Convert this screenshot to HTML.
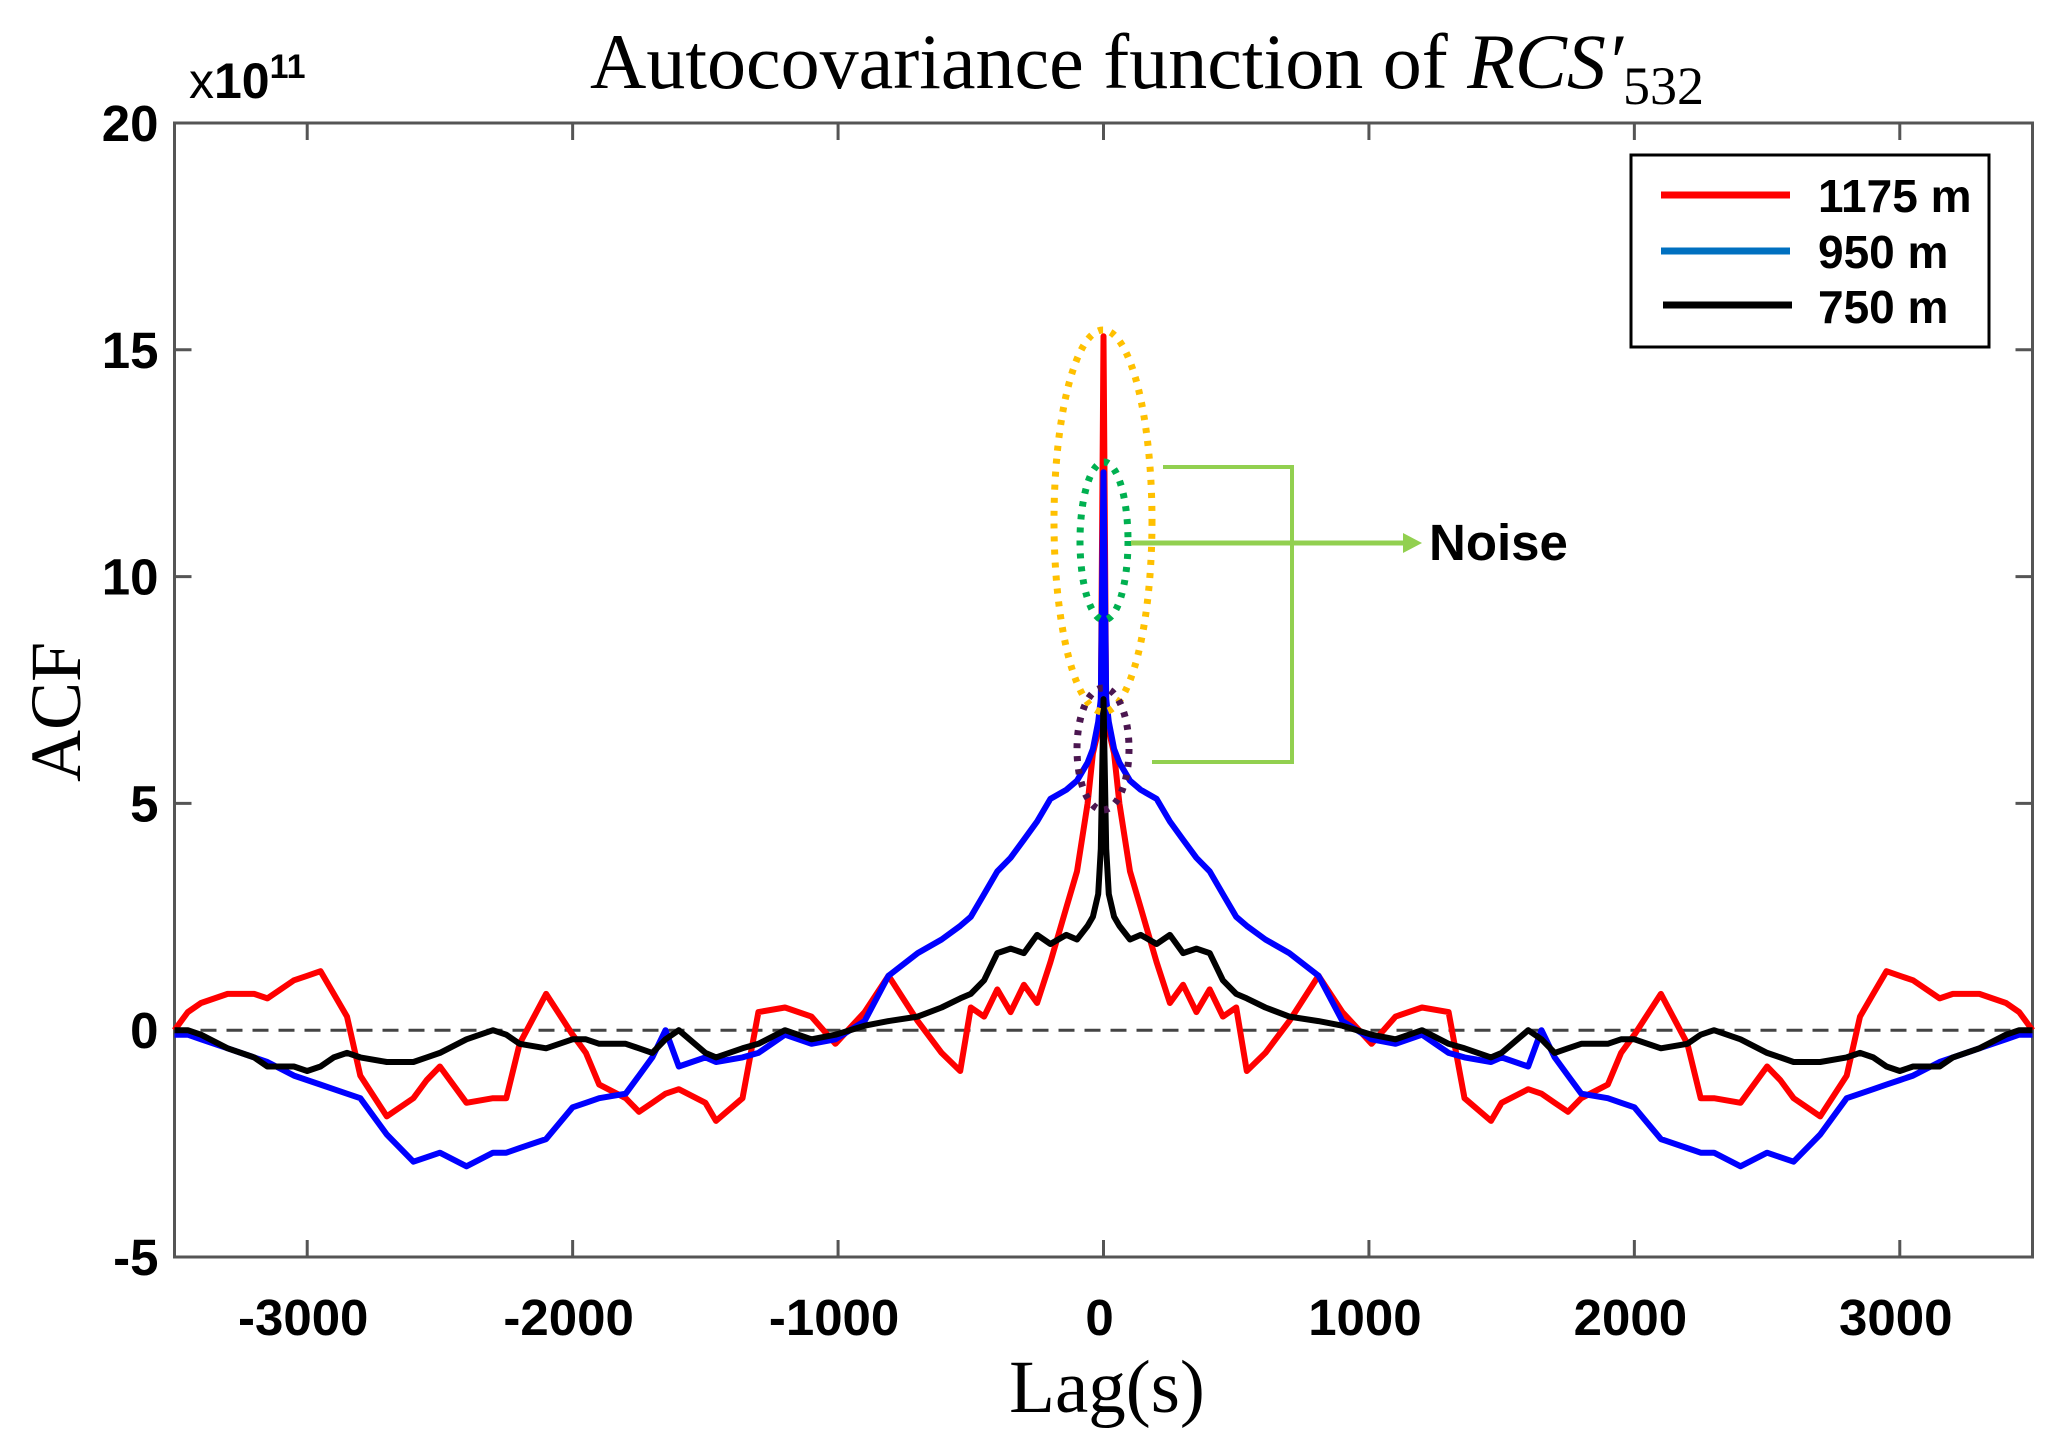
<!DOCTYPE html>
<html><head><meta charset="utf-8"><style>
html,body{margin:0;padding:0;background:#fff;}
svg{display:block;}
</style></head><body>
<svg id="chart" width="2067" height="1452" viewBox="0 0 2067 1452" xmlns="http://www.w3.org/2000/svg">
<rect width="2067" height="1452" fill="#fff"/>
<text x="1147" y="88" font-family="Liberation Serif, serif" font-size="78" text-anchor="middle">Autocovariance function of <tspan font-style="italic">RCS′</tspan><tspan font-size="54" dy="16">532</tspan></text>
<text x="189" y="98" font-family="Liberation Sans, sans-serif" font-size="50">x<tspan font-weight="bold">10</tspan><tspan font-weight="bold" font-size="34" dy="-20">11</tspan></text>
<text transform="translate(80,712) rotate(-90)" font-family="Liberation Serif, serif" font-size="72" text-anchor="middle">ACF</text>
<text x="1107" y="1412" font-family="Liberation Serif, serif" font-size="75" text-anchor="middle">Lag(s)</text>
<g id="axes"></g>
<g id="series"></g>
<g id="annot">
<ellipse cx="1103" cy="521" rx="49" ry="191" fill="none" stroke="#ffc000" stroke-width="7" stroke-dasharray="5 8"/>
<ellipse cx="1104" cy="541" rx="24" ry="79" fill="none" stroke="#00b050" stroke-width="7" stroke-dasharray="5 8"/>
<ellipse cx="1103" cy="749" rx="26" ry="61" fill="none" stroke="#4b1650" stroke-width="7" stroke-dasharray="5 8"/>
<polyline points="1163,467 1292,467 1292,762 1152,762" fill="none" stroke="#92d050" stroke-width="4"/>
<line x1="1131" y1="543" x2="1405" y2="543" stroke="#92d050" stroke-width="5"/>
<polygon points="1403,533 1422,543 1403,553" fill="#92d050"/>
<text x="1429" y="560" font-family="Liberation Sans, sans-serif" font-weight="bold" font-size="51">Noise</text>
</g>
<g id="legend">
<rect x="1631" y="155" width="358" height="192" fill="#fff" stroke="#000" stroke-width="3"/>
<line x1="1661" y1="195" x2="1790" y2="195" stroke="#ff0000" stroke-width="7"/>
<text x="1818" y="212" font-family="Liberation Sans, sans-serif" font-weight="bold" font-size="46">1175 m</text>
<line x1="1661" y1="251" x2="1790" y2="251" stroke="#0070c0" stroke-width="7"/>
<text x="1818" y="268" font-family="Liberation Sans, sans-serif" font-weight="bold" font-size="46">950 m</text>
<line x1="1663" y1="305" x2="1792" y2="305" stroke="#000" stroke-width="7"/>
<text x="1818" y="323" font-family="Liberation Sans, sans-serif" font-weight="bold" font-size="46">750 m</text>
</g>
</svg>
<script>
// positive-lag half of the (symmetric) autocovariance, values in 1e11
const lags = [0,10,20,40,60,100,140,200,250,300,350,400,450,500,540,610,700,810,900,1010,1100,1200,1300,1360,1460,1500,1600,1650,1700,1750,1800,1900,1950,2000,2100,2200,2250,2300,2400,2500,2550,2600,2700,2800,2850,2900,2950,3000,3050,3150,3200,3300,3400,3450,3500];
const red = [15.3,7.0,6.6,6.1,5.0,3.5,2.7,1.5,0.6,1.0,0.4,0.9,0.3,0.5,-0.9,-0.5,0.2,1.2,0.4,-0.3,0.3,0.5,0.4,-1.5,-2.0,-1.6,-1.3,-1.4,-1.6,-1.8,-1.5,-1.2,-0.5,-0.1,0.8,-0.3,-1.5,-1.5,-1.6,-0.8,-1.1,-1.5,-1.9,-1.0,0.3,0.8,1.3,1.2,1.1,0.7,0.8,0.8,0.6,0.4,0.0];
const blue = [12.3,7.3,6.8,6.2,5.9,5.5,5.3,5.1,4.6,4.2,3.8,3.5,3.0,2.5,2.3,2.0,1.7,1.2,0.2,-0.2,-0.3,-0.1,-0.5,-0.6,-0.7,-0.6,-0.8,0.0,-0.6,-1.0,-1.4,-1.5,-1.6,-1.7,-2.4,-2.6,-2.7,-2.7,-3.0,-2.7,-2.8,-2.9,-2.3,-1.5,-1.4,-1.3,-1.2,-1.1,-1.0,-0.7,-0.6,-0.4,-0.2,-0.1,-0.1];
const black = [7.3,4.0,3.0,2.5,2.3,2.0,2.1,1.9,2.1,1.7,1.8,1.7,1.1,0.8,0.7,0.5,0.3,0.2,0.1,-0.1,-0.2,0.0,-0.3,-0.4,-0.6,-0.5,0.0,-0.2,-0.5,-0.4,-0.3,-0.3,-0.2,-0.2,-0.4,-0.3,-0.1,0.0,-0.2,-0.5,-0.6,-0.7,-0.7,-0.6,-0.5,-0.6,-0.8,-0.9,-0.8,-0.8,-0.6,-0.4,-0.1,0.0,0.0];
const xTicks = [-3000,-2000,-1000,0,1000,2000,3000];
const yTicks = [-5,0,5,10,15,20];

const NS = 'http://www.w3.org/2000/svg';
const X0 = 174.5, X1 = 2032.5, Y0 = 1257, Y1 = 123;
const xs = v => X0 + (v + 3500) / 7000 * (X1 - X0);
const ys = v => Y0 - (v + 5) / 25 * (Y0 - Y1);
function mk(tag, attrs, parent){ const e = document.createElementNS(NS, tag); for (const k in attrs) e.setAttribute(k, attrs[k]); parent.appendChild(e); return e; }
const axes = document.getElementById('axes');
const frame = mk('rect', {x:X0, y:Y1, width:X1-X0, height:Y0-Y1, fill:'none', stroke:'#555', 'stroke-width':3}, axes);


xTicks.forEach(t => {
  const x = xs(t);
  mk('line', {x1:x, y1:Y0, x2:x, y2:Y0-17, stroke:'#555', 'stroke-width':3}, axes);
  mk('line', {x1:x, y1:Y1, x2:x, y2:Y1+17, stroke:'#555', 'stroke-width':3}, axes);
  const tx = mk('text', {x:x - 4, y:Y0+78, 'font-family':'Liberation Sans, sans-serif', 'font-weight':'bold', 'font-size':51, 'text-anchor':'middle'}, axes);
  tx.textContent = t;
  
  
});
yTicks.forEach(t => {
  const y = ys(t);
  mk('line', {x1:X0, y1:y, x2:X0+17, y2:y, stroke:'#555', 'stroke-width':3}, axes);
  mk('line', {x1:X1, y1:y, x2:X1-17, y2:y, stroke:'#555', 'stroke-width':3}, axes);
  const tx = mk('text', {x:X0-16, y:y+18, 'font-family':'Liberation Sans, sans-serif', 'font-weight':'bold', 'font-size':51, 'text-anchor':'end'}, axes);
  tx.textContent = t;
  
  
});
const zl = mk('line', {x1:X0, y1:ys(0), x2:X1, y2:ys(0), stroke:'#444', 'stroke-width':3, 'stroke-dasharray':'16 10'}, axes);



const series = document.getElementById('series');
function draw(vals, color, name){
  const pts = [];
  for (let i = lags.length - 1; i > 0; i--) pts.push(xs(-lags[i]).toFixed(1) + ',' + ys(vals[i]).toFixed(1));
  for (let i = 0; i < lags.length; i++) pts.push(xs(lags[i]).toFixed(1) + ',' + ys(vals[i]).toFixed(1));
  const p = mk('polyline', {points:pts.join(' '), fill:'none', stroke:color, 'stroke-width':6, 'stroke-linejoin':'round'}, series);
  
  
}
draw(red, '#ff0000', 'series-1175m');
draw(blue, '#0000ff', 'series-950m');
draw(black, '#000000', 'series-750m');
</script>
</body></html>
